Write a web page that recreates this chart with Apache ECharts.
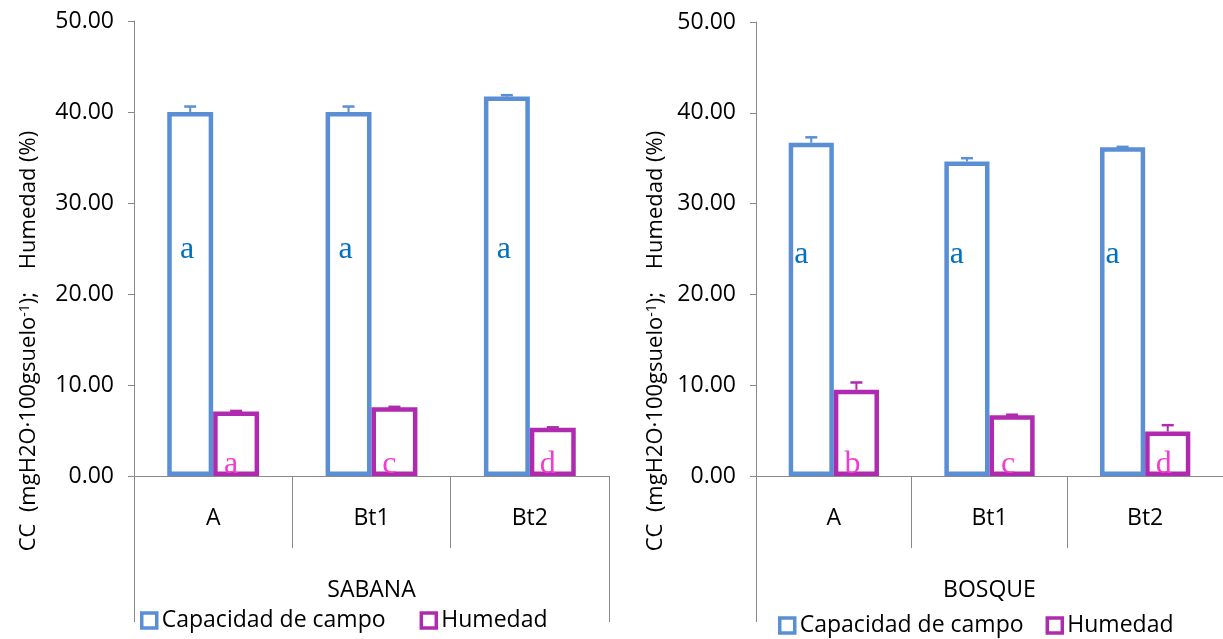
<!DOCTYPE html>
<html>
<head>
<meta charset="utf-8">
<script src="https://cdn.jsdelivr.net/npm/echarts@6/dist/echarts.min.js"></script>
<style>
html,body{margin:0;padding:0;background:#fff;}
#chart{width:1223px;height:639px;}
</style>
</head>
<body>
<div id="chart"></div>
<script>
// ---- data ----
const categories = ['A', 'Bt1', 'Bt2'];
const groupSabana = ['SABANA'];
const groupBosque = ['BOSQUE'];
const yTicks = [0, 10, 20, 30, 40, 50];

const sabanaCC = [40.0, 40.0, 41.7];
const sabanaCCErr = [0.6, 0.6, 0.15];
const sabanaHum = [7.1, 7.55, 5.3];
const sabanaHumErr = [0.05, 0.05, 0.05];
const sabanaCCLetters = ['a', 'a', 'a'];
const sabanaHumLetters = ['a', 'c', 'd'];

const bosqueCC = [36.7, 34.65, 36.2];
const bosqueCCErr = [0.6, 0.35, 0.05];
const bosqueHum = [9.5, 6.7, 4.9];
const bosqueHumErr = [0.8, 0.05, 0.7];
const bosqueCCLetters = ['a', 'a', 'a'];
const bosqueHumLetters = ['b', 'c', 'd'];

const seriesNames = ['Capacidad de campo', 'Humedad'];

// ---- styles ----
const BLUE = '#5A8FD6';
const MAG = '#B02AB0';
const BLUE_TXT = '#0070C0';
const MAG_TXT = '#F23BD2';
const GRAY = '#898989';
const FONT = '"Open Sans", "Noto Sans", sans-serif';
const SERIF = '"Liberation Serif", "DejaVu Serif", serif';
const FS = 23;

function errRenderer(sign, color) {
  return function (params, api) {
    const xi = api.value(0), v = api.value(1), e = api.value(2);
    const band = api.size([1, 0])[0];
    const off = sign * band * 0.145;
    const top = api.coord([xi, v + e]);
    const base = api.coord([xi, v]);
    const x = top[0] + off;
    const cap = 6;
    return {
      type: 'group',
      children: [
        { type: 'line', shape: { x1: x, y1: base[1], x2: x, y2: top[1] }, style: { stroke: color, lineWidth: 2 } },
        { type: 'line', shape: { x1: x - cap, y1: top[1], x2: x + cap, y2: top[1] }, style: { stroke: color, lineWidth: 2.5 } }
      ]
    };
  };
}

function barSeries(name, vals, letters, color, txtColor, xIdx, yIdx, labelOpt) {
  return {
    type: 'bar', name: name, xAxisIndex: xIdx, yAxisIndex: yIdx,
    barWidth: '29%', barGap: '0%',
    data: vals.map((v, i) => ({ value: v, letter: letters[i] })),
    itemStyle: { color: '#ffffff', borderColor: color, borderWidth: 4.5 },
    label: Object.assign({
      show: true, position: 'insideBottom',
      formatter: (p) => p.data.letter,
      color: txtColor, fontFamily: SERIF, fontSize: 32
    }, labelOpt),
    z: 2
  };
}

function errSeries(vals, errs, sign, color, xIdx, yIdx) {
  return {
    type: 'custom', name: 'err', xAxisIndex: xIdx, yAxisIndex: yIdx,
    renderItem: errRenderer(sign, color),
    encode: { x: 0, y: 1 },
    data: vals.map((v, i) => [i, v, errs[i]]),
    z: 5, silent: true
  };
}

function yAxis(gridIndex) {
  return {
    type: 'value', gridIndex: gridIndex, min: yTicks[0], max: yTicks[yTicks.length - 1], interval: 10,
    axisLine: { show: true, lineStyle: { color: GRAY, width: 1 } },
    axisTick: { show: true, length: 6, lineStyle: { color: GRAY } },
    splitLine: { show: false },
    axisLabel: { margin: 20, color: '#000', fontFamily: FONT, fontSize: FS, formatter: (v) => v.toFixed(2) }
  };
}

function catAxis(gridIndex) {
  return {
    type: 'category', gridIndex: gridIndex, data: categories, position: 'bottom',
    axisLine: { show: true, lineStyle: { color: GRAY, width: 1 } },
    axisTick: { show: true, length: 72, lineStyle: { color: GRAY } },
    axisLabel: { margin: 31, color: '#000', fontFamily: FONT, fontSize: FS }
  };
}

function groupAxis(gridIndex, data) {
  return {
    type: 'category', gridIndex: gridIndex, data: data, position: 'bottom',
    axisLine: { show: false },
    axisTick: { show: true, length: 146, lineStyle: { color: GRAY } },
    axisLabel: { margin: 103, color: '#000', fontFamily: FONT, fontSize: FS }
  };
}

function legend(left, top, gap) {
  return {
    left: left, top: top, itemWidth: 15, itemHeight: 15, itemGap: gap,
    icon: 'rect',
    textStyle: { color: '#000', fontFamily: FONT, fontSize: FS },
    data: [
      { name: seriesNames[0], itemStyle: { color: '#fff', borderColor: BLUE, borderWidth: 3.5 } },
      { name: seriesNames[1], itemStyle: { color: '#fff', borderColor: MAG, borderWidth: 3.5 } }
    ]
  };
}

function yTitle(x, y) {
  return {
    type: 'text', x: x, y: y, rotation: Math.PI / 2,
    style: {
      text: 'CC  (mgH2O·100gsuelo{sup|-1});    Humedad (%)',
      fill: '#000', fontFamily: FONT, fontSize: 22,
      align: 'center', verticalAlign: 'middle',
      textAlign: 'center', textVerticalAlign: 'middle',
      rich: { sup: { fontSize: 14, fontFamily: FONT, fill: '#000', color: '#000', verticalAlign: 'top', padding: [0, 0, 8, 0] } }
    }
  };
}

const chart = echarts.init(document.getElementById('chart'), null, { renderer: 'canvas' });
chart.setOption({
  animation: false,
  backgroundColor: '#fff',
  grid: [
    { left: 134, top: 21, width: 475, height: 455 },
    { left: 756, top: 22, width: 477, height: 454 }
  ],
  xAxis: [catAxis(0), groupAxis(0, groupSabana), catAxis(1), groupAxis(1, groupBosque)],
  yAxis: [yAxis(0), yAxis(1)],
  legend: [legend(135, 604, 34), legend(773, 609, 22)],
  graphic: [yTitle(29, 341), yTitle(656, 341)],
  series: [
    barSeries(seriesNames[0], sabanaCC, sabanaCCLetters, BLUE, BLUE_TXT, 0, 0, { offset: [-3, -205] }),
    barSeries(seriesNames[1], sabanaHum, sabanaHumLetters, MAG, MAG_TXT, 0, 0, { distance: 0, offset: [-5, 5] }),
    errSeries(sabanaCC, sabanaCCErr, -1, BLUE, 0, 0),
    errSeries(sabanaHum, sabanaHumErr, 1, MAG, 0, 0),
    barSeries(seriesNames[0], bosqueCC, bosqueCCLetters, BLUE, BLUE_TXT, 2, 1, { offset: [-10, -200] }),
    barSeries(seriesNames[1], bosqueHum, bosqueHumLetters, MAG, MAG_TXT, 2, 1, { distance: 0, offset: [-4, 5] }),
    errSeries(bosqueCC, bosqueCCErr, -1, BLUE, 2, 1),
    errSeries(bosqueHum, bosqueHumErr, 1, MAG, 2, 1)
  ]
});
</script>
</body>
</html>
